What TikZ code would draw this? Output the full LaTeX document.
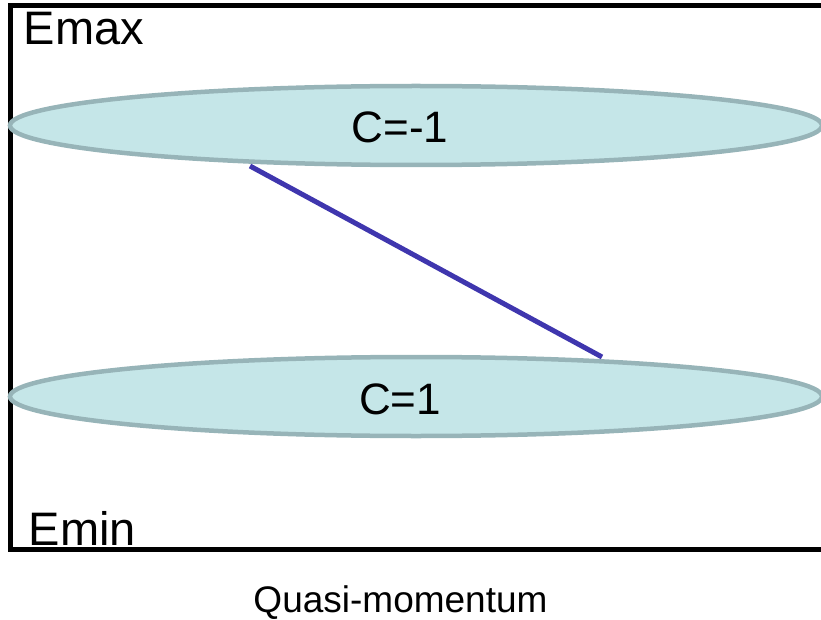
\documentclass[tikz,border=0pt]{standalone}
\usepackage{fontspec}
\setmainfont{Liberation Sans}
\usetikzlibrary{shapes.geometric}
\definecolor{bandfill}{HTML}{C5E6E8}
\definecolor{bandline}{HTML}{97B4B8}
\definecolor{edgeblue}{HTML}{3F36AE}
\tikzset{
  band/.style={ellipse, draw=bandline, fill=bandfill, line width=4.5pt,
    minimum width=812pt, minimum height=79pt, inner sep=0pt},
  lab/.style={inner sep=0pt, font=\fontsize{47}{50}\selectfont, anchor=base west},
  clab/.style={inner sep=0pt, font=\fontsize{44}{48}\selectfont, anchor=base},
  axislab/.style={inner sep=0pt, font=\fontsize{37}{40}\selectfont, anchor=base},
  edge/.style={draw=edgeblue, line width=5pt},
}
\begin{document}
\begin{tikzpicture}[x=1pt,y=-1pt]
\useasboundingbox (0,0) rectangle (821,620);
\draw[line width=5pt] (830,5.5) -- (10,5.5) -- (10,549.5) -- (830,549.5);
\node[band] (top) at (416,125.5) {};
\node[band] (bot) at (416,396.5) {};
\node[clab] (ctop) at (400,143) {C=-1};
\node[clab] (cbot) at (400,414) {C=1};
\node[lab] (emax) at (23.5,45) {Emax};
\node[lab] (emin) at (28.5,545) {Emin};
\node[axislab] (qm) at (400.5,612) {Quasi-momentum};
\coordinate (a) at (250,166);
\coordinate (b) at (602,357);
\draw[edge] (a) -- (b);
\end{tikzpicture}
\end{document}
